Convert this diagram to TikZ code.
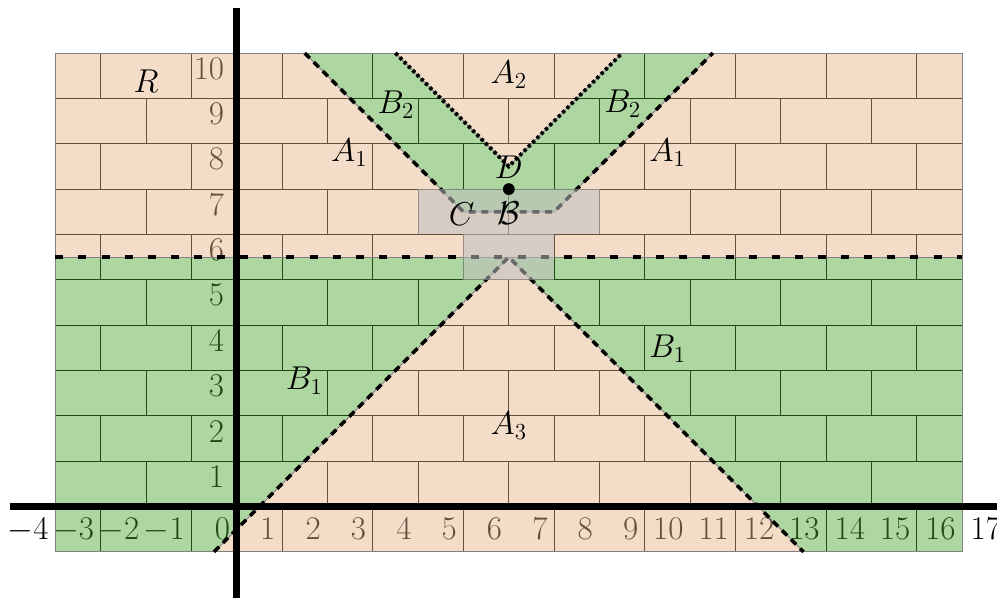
\documentclass[tikz,border=0pt]{standalone}
\definecolor{tanC}{RGB}{228,179,135}
\definecolor{greenC}{RGB}{75,164,46}
\definecolor{rectC}{RGB}{191,191,191}
\tikzset{
  brick/.style={black, line width=0.6pt},
  tick/.style={anchor=north east, inner sep=0pt, font=\huge},
  lbl/.style={inner sep=0pt, font=\huge},
  tanfill/.style={fill=tanC, fill opacity=0.45},
  greenfill/.style={fill=greenC, fill opacity=0.45},
  thinborder/.style={draw=gray, line width=0.6pt},
  hdash/.style={black, line width=2.4pt, dash pattern=on 5pt off 9.5pt},
  ddash/.style={black, line width=2.2pt, dash pattern=on 4.5pt off 3.5pt},
  ddot/.style={black, line width=2.4pt, dash pattern=on 2pt off 1.8pt},
  grayrect/.style={fill=rectC, fill opacity=0.55},
  axis/.style={black, line width=4.5pt}
}
\begin{document}
\begin{tikzpicture}
\useasboundingbox (-5.22,-2.013) rectangle (16.765,11.17);
% bricks
\foreach \y in {0,...,9} \draw[brick] (-4,\y) -- (16,\y);
\foreach \k in {-1,1,...,9} {
  \foreach \x in {-3,-1,...,15} \draw[brick] (\x,\k) -- (\x,\k+1);
}
\foreach \k in {0,2,...,8} {
  \foreach \x in {-2,0,...,14} \draw[brick] (\x,\k) -- (\x,\k+1);
}
% tick labels
\foreach \x in {-4,...,17} \node[tick] (tx\x) at (\x-0.14,-0.25) {$\x$};
\foreach \y in {1,...,10} \node[tick] (ty\y) at (-0.27,\y-0.1) {$\y$};
% region fills
\fill[tanfill, even odd rule] (-4,5.5) rectangle (16,10)
  (1.5,10) -- (5,6.5) -- (7,6.5) -- (10.5,10) -- (8.5,10) -- (6,7.5) -- (3.5,10) -- cycle;
\fill[greenfill] (1.5,10) -- (5,6.5) -- (7,6.5) -- (10.5,10) -- (8.5,10) -- (6,7.5) -- (3.5,10) -- cycle;
\fill[greenfill, even odd rule] (-4,-1) rectangle (16,5.5)
  (6,5.5) -- (-0.5,-1) -- (12.5,-1) -- cycle;
\fill[tanfill] (6,5.5) -- (-0.5,-1) -- (12.5,-1) -- cycle;
% thin gray borders
\coordinate (bl) at (-4,-1);
\coordinate (tr) at (16,10);
\draw[thinborder] (bl) rectangle (tr);
\coordinate (hl) at (-4,5.5);
\coordinate (hr) at (16,5.5);
\coordinate (apex) at (6,5.5);
\coordinate (tl3) at (-0.5,-1);
\coordinate (tr3) at (12.5,-1);
\coordinate (o1) at (1.5,10);
\coordinate (o2) at (5,6.5);
\coordinate (o3) at (7,6.5);
\coordinate (o4) at (10.5,10);
\coordinate (i1) at (3.5,10);
\coordinate (i2) at (6,7.5);
\coordinate (i3) at (8.5,10);
\draw[thinborder] (hl) -- (hr);
\draw[thinborder] (tl3) -- (apex) -- (tr3);
\draw[thinborder] (o1) -- (o2) -- (o3) -- (o4);
\draw[thinborder] (i1) -- (i2) -- (i3);
% dashed boundaries
\draw[hdash] (hl) -- (hr);
\draw[ddash] (tl3) -- (apex) -- (tr3);
\draw[ddash] (o1) -- (o2) -- (o3) -- (o4);
\draw[ddot] (i1) -- (i2) -- (i3);
% gray rectangles
\fill[grayrect] (4,6) rectangle (8,7);
\fill[grayrect] (5,5) rectangle (7,6);
% point D
\fill[black] (6,7) circle (0.13);
% labels
\node[lbl] (R) at (-2,9.38) {$R$};
\node[lbl] (A2) at (6,9.52) {$A_2$};
\node[lbl] (B2l) at (3.51,8.86) {$B_2$};
\node[lbl] (B2r) at (8.51,8.88) {$B_2$};
\node[lbl] (A1l) at (2.48,7.8) {$A_1$};
\node[lbl] (A1r) at (9.5,7.8) {$A_1$};
\node[lbl] (D) at (6,7.49) {$D$};
\node[lbl] (C) at (4.96,6.45) {$C$};
\node[lbl] (B) at (6,6.47) {$\mathcal{B}$};
\node[lbl] (B1l) at (1.49,2.78) {$B_1$};
\node[lbl] (B1r) at (9.5,3.48) {$B_1$};
\node[lbl] (A3) at (6,1.78) {$A_3$};
% axes
\coordinate (xa) at (-5,0);
\coordinate (xb) at (17,0);
\coordinate (ya) at (0,-2.2);
\coordinate (yb) at (0,11);
\draw[axis] (xa) -- (xb);
\draw[axis] (ya) -- (yb);
\end{tikzpicture}
\end{document}
